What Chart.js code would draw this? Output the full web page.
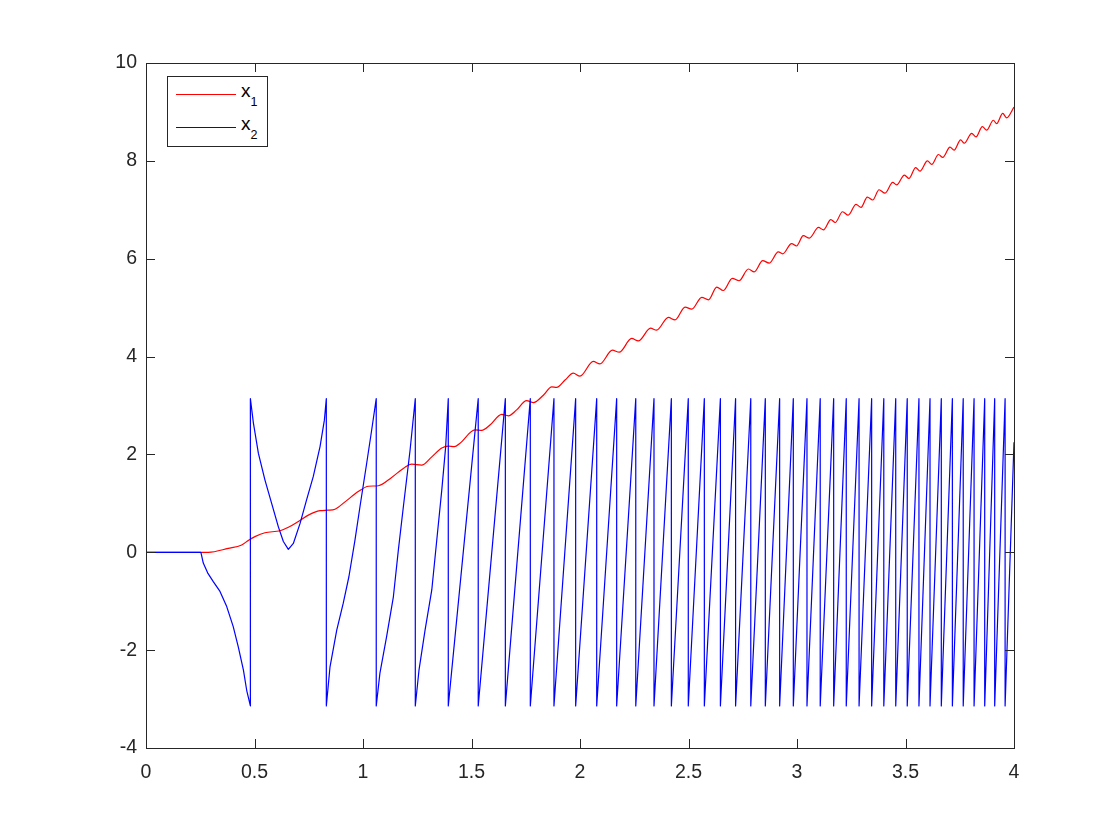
<!DOCTYPE html>
<html>
<head>
<meta charset="utf-8">
<script src="https://cdn.jsdelivr.net/npm/chart.js@4/dist/chart.umd.min.js"></script>
<style>
  body { margin: 0; background: #fff; }
  #wrap { position: relative; width: 1120px; height: 840px; }
  #legend {
    position: absolute; left: 167px; top: 76px; width: 99px; height: 69px;
    border: 1px solid #262626; background: #fff;
    font-family: "Liberation Sans", Arial, sans-serif; color: #000;
  }
  .swatch { position: absolute; left: 8px; width: 60px; height: 0; border-top: 1.2px solid; }
  .label { position: absolute; left: 73px; font-size: 19px; line-height: 20px; white-space: nowrap; }
  .label sub { font-size: 12.5px; vertical-align: -9px; line-height: 0; }
</style>
</head>
<body>
<div id="wrap">
  <canvas id="plot" width="1120" height="840"></canvas>
  <div id="legend">
    <div class="swatch" style="top:17.4px; border-color:#ff0000"></div>
    <div class="label" style="top:4.4px">x<sub>1</sub></div>
    <div class="swatch" style="top:50.1px; border-color:#0000ff"></div>
    <div class="label" style="top:37.1px">x<sub>2</sub></div>
  </div>
</div>
<script>
// Axis ticks
const xTickValues = [0, 0.5, 1, 1.5, 2, 2.5, 3, 3.5, 4];
const xTickLabels = ['0', '0.5', '1', '1.5', '2', '2.5', '3', '3.5', '4'];
const yTickValues = [-4, -2, 0, 2, 4, 6, 8, 10];
const yTickLabels = ['-4', '-2', '0', '2', '4', '6', '8', '10'];

// x1 (red)
const x1T = [0, 0.252, 0.287, 0.379, 0.441, 0.471, 0.502, 0.548, 0.618, 0.656, 0.702, 0.748,
  0.802, 0.840, 0.871, 0.917, 0.978, 1.025, 1.071, 1.132, 1.194, 1.224, 1.270, 1.317, 1.363,
  1.393, 1.421, 1.447,
  1.516, 1.547, 1.585, 1.639, 1.670, 1.708, 1.754, 1.786, 1.831, 1.870, 1.892, 1.931, 1.969,
  2.000, 2.061, 2.092, 2.149, 2.181, 2.238, 2.269, 2.325, 2.353, 2.407, 2.438, 2.484, 2.515,
  2.561, 2.592, 2.630, 2.660, 2.702, 2.733, 2.776, 2.803, 2.842, 2.872, 2.914, 2.934, 2.975,
  2.998, 3.029, 3.057, 3.099, 3.122, 3.156, 3.176, 3.210, 3.236, 3.272, 3.295, 3.324, 3.349,
  3.378, 3.406, 3.441, 3.459, 3.495, 3.516, 3.547, 3.567, 3.601, 3.621, 3.652, 3.672, 3.705,
  3.724, 3.754, 3.771, 3.805, 3.825, 3.854, 3.874, 3.905, 3.920, 3.948, 3.966, 4.000];
const x1V = [0, 0, 0.00, 0.08, 0.15, 0.24, 0.32, 0.40, 0.44, 0.51, 0.63, 0.76,
  0.85, 0.86, 0.88, 1.03, 1.24, 1.35, 1.36, 1.53, 1.74, 1.80, 1.78, 1.95, 2.13,
  2.17, 2.16, 2.23,
  2.50, 2.49, 2.60, 2.82, 2.79, 2.91, 3.10, 3.06, 3.21, 3.38, 3.37, 3.52, 3.66,
  3.60, 3.90, 3.85, 4.13, 4.09, 4.37, 4.32, 4.58, 4.54, 4.80, 4.75, 5.01, 4.97,
  5.21, 5.16, 5.42, 5.35, 5.60, 5.55, 5.79, 5.73, 5.96, 5.91, 6.14, 6.10, 6.31,
  6.26, 6.47, 6.42, 6.64, 6.59, 6.80, 6.74, 6.96, 6.89, 7.11, 7.05, 7.26, 7.20,
  7.41, 7.34, 7.56, 7.51, 7.71, 7.64, 7.86, 7.79, 8.00, 7.93, 8.13, 8.07, 8.28,
  8.22, 8.43, 8.36, 8.56, 8.49, 8.70, 8.63, 8.83, 8.76, 8.97, 8.88, 9.10];

// x2 (blue, wrapped) - curved early teeth
const x2T = [0, 0.253, 0.264, 0.284, 0.310, 0.341, 0.372, 0.402, 0.425, 0.449, 0.464, 0.481,
  0.481, 0.495, 0.518, 0.548, 0.579, 0.610, 0.633, 0.656, 0.679, 0.710, 0.740, 0.771, 0.802, 0.822, 0.831,
  0.831, 0.848, 0.879, 0.909, 0.935, 0.963, 0.986, 1.017, 1.040, 1.061,
  1.061, 1.078, 1.109, 1.140, 1.163, 1.186, 1.217, 1.241,
  1.241, 1.258, 1.286, 1.317, 1.340, 1.363, 1.381, 1.393, 1.393];
const x2V = [0, 0, -0.22, -0.42, -0.60, -0.80, -1.11, -1.52, -1.93, -2.41, -2.82, -3.14,
  3.14, 2.64, 2.02, 1.48, 1.00, 0.52, 0.22, 0.06, 0.18, 0.59, 1.07, 1.55, 2.16, 2.70, 3.14,
  -3.14, -2.34, -1.59, -1.04, -0.50, 0.25, 0.93, 1.82, 2.50, 3.14,
  -3.14, -2.47, -1.72, -0.91, 0.05, 0.93, 2.09, 3.14,
  -3.14, -2.41, -1.59, -0.77, 0.25, 1.27, 2.16, 3.14, -3.14];
// later teeth: times where x2 wraps from top to bottom
const x2Wraps = [1.531, 1.656, 1.771, 1.880, 1.980, 2.077, 2.169, 2.257, 2.341, 2.421,
  2.499, 2.573, 2.647, 2.717, 2.787, 2.854, 2.920, 2.983, 3.046, 3.107, 3.169, 3.227,
  3.286, 3.344, 3.400, 3.455, 3.508, 3.562, 3.613, 3.665, 3.716, 3.766, 3.816, 3.865,
  3.911, 3.959];
const wrapTop = 3.14;
const wrapBottom = -3.14;
const x2End = [4.0, 2.25];

const x1Data = x1T.map((t, i) => ({ x: t, y: x1V[i] }));
const x2Data = x2T.map((t, i) => ({ x: t, y: x2V[i] }));
x2Wraps.forEach(t => {
  x2Data.push({ x: t, y: wrapTop });
  x2Data.push({ x: t, y: wrapBottom });
});
x2Data.push({ x: x2End[0], y: x2End[1] });

const axisColor = '#262626';
const tickFont = { family: '"Liberation Sans", Arial, sans-serif', size: 19.5 };

// box round the axes with inward ticks on all four sides
const boxPlugin = {
  id: 'box',
  afterDatasetsDraw(chart) {
    const { ctx, chartArea: a, scales } = chart;
    const len = 9;
    ctx.save();
    ctx.strokeStyle = axisColor;
    ctx.lineWidth = 1;
    ctx.beginPath();
    xTickValues.forEach(v => {
      const px = Math.round(scales.x.getPixelForValue(v)) + 0.5;
      ctx.moveTo(px, a.bottom); ctx.lineTo(px, a.bottom - len);
      ctx.moveTo(px, a.top); ctx.lineTo(px, a.top + len);
    });
    yTickValues.forEach(v => {
      const py = Math.round(scales.y.getPixelForValue(v)) + 0.5;
      ctx.moveTo(a.left, py); ctx.lineTo(a.left + len, py);
      ctx.moveTo(a.right, py); ctx.lineTo(a.right - len, py);
    });
    ctx.stroke();
    ctx.strokeRect(Math.round(a.left) + 0.5, Math.round(a.top) + 0.5,
      Math.round(a.right - a.left), Math.round(a.bottom - a.top));
    ctx.restore();
  }
};

new Chart(document.getElementById('plot').getContext('2d'), {
  type: 'scatter',
  data: {
    datasets: [
      {
        label: 'x2',
        data: x2Data,
        showLine: true,
        borderColor: '#0000ff',
        borderWidth: 1.2,
        borderJoinStyle: 'round',
        pointRadius: 0,
        tension: 0
      },
      {
        label: 'x1',
        data: x1Data,
        showLine: true,
        borderColor: '#ff0000',
        borderWidth: 1.2,
        borderJoinStyle: 'round',
        pointRadius: 0,
        cubicInterpolationMode: 'monotone'
      }
    ]
  },
  options: {
    responsive: false,
    animation: false,
    layout: { padding: { left: 0, top: 63, right: 106, bottom: 0 } },
    plugins: {
      legend: { display: false },
      tooltip: { enabled: false }
    },
    scales: {
      x: {
        type: 'linear',
        min: 0,
        max: 4,
        afterFit: s => { s.height = 92; },
        afterBuildTicks: s => { s.ticks = xTickValues.map(v => ({ value: v })); },
        grid: { display: false, drawTicks: false },
        border: { display: false },
        ticks: {
          padding: 13,
          maxRotation: 0,
          color: axisColor,
          font: tickFont,
          callback: (v, i) => xTickLabels[i]
        }
      },
      y: {
        type: 'linear',
        min: -4,
        max: 10,
        afterFit: s => { s.width = 146; },
        afterBuildTicks: s => { s.ticks = yTickValues.map(v => ({ value: v })); },
        grid: { display: false, drawTicks: false },
        border: { display: false },
        ticks: {
          padding: 9,
          color: axisColor,
          font: tickFont,
          callback: (v, i) => yTickLabels[i]
        }
      }
    }
  },
  plugins: [boxPlugin]
});
</script>
</body>
</html>
